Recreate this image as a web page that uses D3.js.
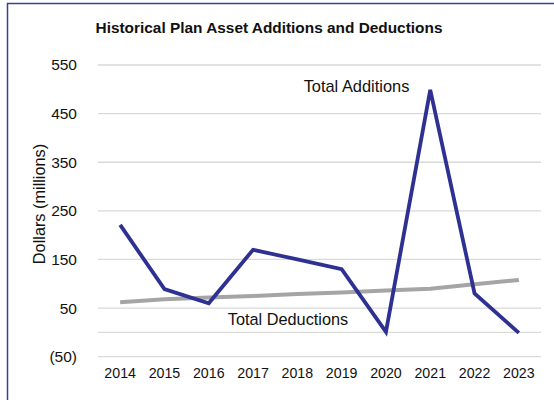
<!DOCTYPE html>
<html><head><meta charset="utf-8">
<script src="https://cdn.jsdelivr.net/npm/d3@7"></script>
<style>body{margin:0;background:#fff;}svg{display:block;font-family:"Liberation Sans",Arial,sans-serif;}</style>
</head><body>
<svg id="c" width="554" height="400"></svg>
<script>
const years = ["2014","2015","2016","2017","2018","2019","2020","2021","2022","2023"];
const additions = [221, 89, 60, 170, 150, 130, 1, 499, 80, -1];
const deductions = [62, 68, 72, 75, 79, 82, 86, 90, 99, 108];
const yTicks = [-50, 50, 150, 250, 350, 450, 550];

const svg = d3.select("#c");
const x = d3.scaleBand().domain(years).range([98, 541]);
const y = d3.scaleLinear().domain([-50, 550]).range([356.7, 65]);

// border
svg.append("path").attr("d", "M7.5,400 V3.5 H554").attr("fill", "none")
  .attr("stroke", "#3d3d9a").attr("stroke-width", 1.5);

// title
svg.append("text").attr("x", 269).attr("y", 33).attr("text-anchor", "middle")
  .attr("font-size", 15.4).attr("font-weight", "bold").attr("fill", "#111")
  .text("Historical Plan Asset Additions and Deductions");

// gridlines
svg.append("g").selectAll("line").data(yTicks.concat([0])).join("line")
  .attr("x1", 98).attr("x2", 541)
  .attr("y1", d => y(d)).attr("y2", d => y(d))
  .attr("stroke", "#d9d9d9").attr("stroke-width", 1.3);

// y axis
const ya = svg.append("g").attr("transform", "translate(77,0)")
  .call(d3.axisLeft(y).tickValues(yTicks).tickSize(0).tickPadding(0)
    .tickFormat(d => d < 0 ? "(" + Math.abs(d) + ")" : d));
ya.select(".domain").remove();
ya.selectAll("text").attr("font-size", 15.5).attr("fill", "#111")
  .attr("font-family", "Liberation Sans, Arial, sans-serif");

// x axis
const xa = svg.append("g").attr("transform", "translate(0,368)")
  .call(d3.axisBottom(x).tickSize(0).tickPadding(0));
xa.select(".domain").remove();
xa.selectAll("text").attr("font-size", 14.2).attr("fill", "#111")
  .attr("font-family", "Liberation Sans, Arial, sans-serif");

// y label
svg.append("text").attr("transform", "translate(45,204) rotate(-90)")
  .attr("text-anchor", "middle").attr("font-size", 16.3).attr("fill", "#111")
  .text("Dollars (millions)");

const line = d3.line().x((d, i) => x(years[i]) + x.bandwidth() / 2).y(d => y(d));

svg.append("path").datum(deductions).attr("d", line).attr("fill", "none")
  .attr("stroke", "#a5a5a5").attr("stroke-width", 4).attr("stroke-linejoin", "round");
svg.append("path").datum(additions).attr("d", line).attr("fill", "none")
  .attr("stroke", "#2e3192").attr("stroke-width", 3.8).attr("stroke-linejoin", "miter");

svg.append("text").attr("x", 356.5).attr("y", 92).attr("text-anchor", "middle")
  .attr("font-size", 16.4).attr("fill", "#111").text("Total Additions");
svg.append("text").attr("x", 288).attr("y", 325).attr("text-anchor", "middle")
  .attr("font-size", 16.3).attr("fill", "#111").text("Total Deductions");
</script>
</body></html>
